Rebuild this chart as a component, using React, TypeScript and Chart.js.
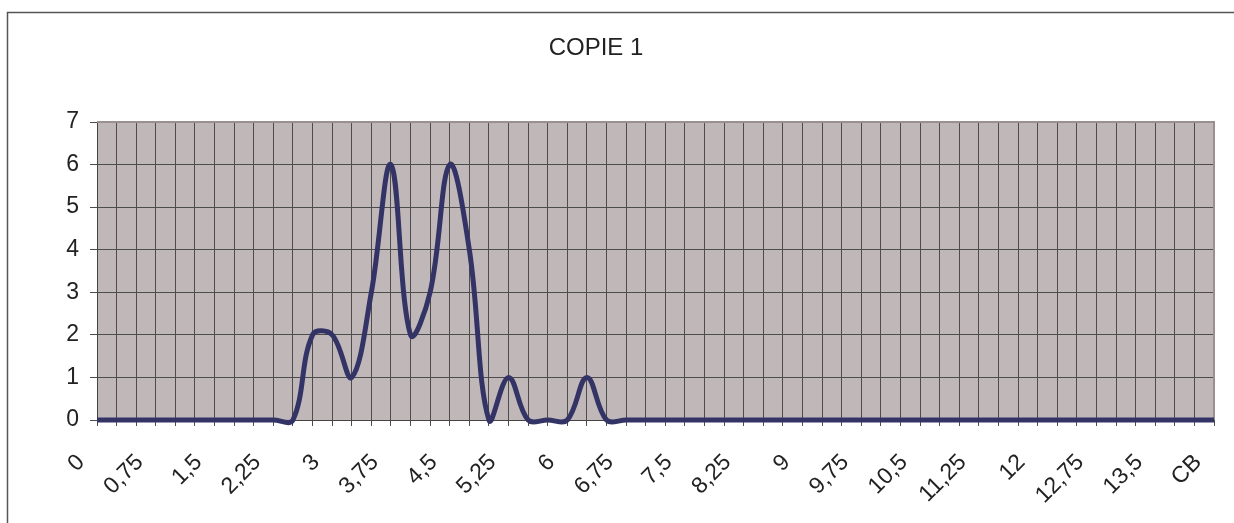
import React, { useEffect, useRef } from "react";
import { Chart, registerables } from "chart.js";

Chart.register(...registerables);

const TITLE = "COPIE 1";

const CATEGORIES: string[] = [
  "0", "0,25", "0,5", "0,75", "1", "1,25", "1,5", "1,75", "2", "2,25",
  "2,5", "2,75", "3", "3,25", "3,5", "3,75", "4", "4,25", "4,5", "4,75",
  "5", "5,25", "5,5", "5,75", "6", "6,25", "6,5", "6,75", "7", "7,25",
  "7,5", "7,75", "8", "8,25", "8,5", "8,75", "9", "9,25", "9,5", "9,75",
  "10", "10,25", "10,5", "10,75", "11", "11,25", "11,5", "11,75", "12", "12,25",
  "12,5", "12,75", "13", "13,25", "13,5", "13,75", "14", "CB",
];

const VALUES: number[] = [
  0, 0, 0, 0, 0, 0, 0, 0, 0, 0,
  0, 2, 2, 1, 3, 6, 2, 3, 6, 4,
  0, 1, 0, 0, 0, 1, 0, 0, 0, 0,
  0, 0, 0, 0, 0, 0, 0, 0, 0, 0,
  0, 0, 0, 0, 0, 0, 0, 0, 0, 0,
  0, 0, 0, 0, 0, 0, 0, 0,
];

const TICK_LABELS: string[] = [
  "0", "0,75", "1,5", "2,25", "3", "3,75", "4,5", "5,25", "6", "6,75",
  "7,5", "8,25", "9", "9,75", "10,5", "11,25", "12", "12,75", "13,5", "CB",
];

const Y_MIN = 0;
const Y_MAX = 7;

const FONT = "'Liberation Sans', Arial, sans-serif";

const framePlugin = {
  id: "frame",
  beforeDraw(chart: any) {
    const { ctx, chartArea } = chart;
    ctx.save();
    ctx.fillStyle = "#ffffff";
    ctx.fillRect(0, 0, chart.width, chart.height);
    ctx.strokeStyle = "#555555";
    ctx.lineWidth = 1.5;
    ctx.beginPath();
    ctx.moveTo(7.5, chart.height);
    ctx.lineTo(7.5, 12.5);
    ctx.lineTo(chart.width, 12.5);
    ctx.stroke();
    ctx.fillStyle = "#c0b8b8";
    ctx.fillRect(chartArea.left, chartArea.top, chartArea.right - chartArea.left, chartArea.bottom - chartArea.top);
    ctx.fillStyle = "#222222";
    ctx.font = `24px ${FONT}`;
    ctx.textAlign = "center";
    ctx.textBaseline = "middle";
    ctx.fillText(TITLE, 596, 48);
    ctx.restore();
  },
  beforeDatasetsDraw(chart: any) {
    const { ctx, chartArea } = chart;
    ctx.save();
    ctx.strokeStyle = "#9a9090";
    ctx.lineWidth = 2;
    ctx.beginPath();
    ctx.moveTo(chartArea.left, chartArea.top);
    ctx.lineTo(chartArea.right, chartArea.top);
    ctx.lineTo(chartArea.right, chartArea.bottom);
    ctx.stroke();
    ctx.restore();
  },
};

export default function App() {
  const canvasRef = useRef<HTMLCanvasElement | null>(null);

  useEffect(() => {
    document.body.style.margin = "0";
    document.body.style.overflow = "hidden";
    const canvas = canvasRef.current;
    if (!canvas) return;
    const chart = new Chart(canvas, {
      type: "line",
      data: {
        labels: CATEGORIES,
        datasets: [
          {
            data: VALUES,
            borderColor: "#333366",
            borderWidth: 5,
            pointRadius: 0,
            tension: 0.38,
            fill: false,
            clip: false as any,
          },
        ],
      },
      plugins: [framePlugin],
      options: {
        responsive: false,
        animation: false,
        devicePixelRatio: 1,
        layout: { padding: { left: 0, right: 20, top: 122, bottom: 0 } },
        elements: { line: { capBezierPoints: false, borderCapStyle: "butt", borderJoinStyle: "round" } },
        plugins: {
          legend: { display: false },
          tooltip: { enabled: false },
          title: { display: false },
        },
        scales: {
          x: {
            type: "category",
            offset: false,
            afterFit: (scale: any) => {
              scale.height = 103;
              scale.paddingLeft = 0;
              scale.paddingRight = 0;
            },
            grid: {
              display: true,
              color: "#4c4c4c",
              lineWidth: 1,
              tickLength: 6,
              drawOnChartArea: true,
              drawTicks: true,
            },
            border: { display: true, color: "#444444", width: 1 },
            ticks: {
              autoSkip: false,
              maxRotation: 45,
              minRotation: 45,
              padding: 23,
              labelOffset: -16,
              color: "#222222",
              font: { family: FONT, size: 23 },
              callback: function (this: any, _v: any, index: number) {
                const lab = CATEGORIES[index];
                return TICK_LABELS.includes(lab) && index % 3 === 0 ? lab : "";
              },
            },
          },
          y: {
            min: Y_MIN,
            max: Y_MAX,
            afterFit: (scale: any) => {
              scale.width = 97;
              scale.paddingTop = 0;
              scale.paddingBottom = 0;
            },
            grid: {
              display: true,
              color: "#4c4c4c",
              lineWidth: 1,
              tickLength: 7,
            },
            border: { display: true, color: "#444444", width: 1 },
            ticks: {
              stepSize: 1,
              padding: 11,
              color: "#222222",
              font: { family: FONT, size: 23 },
            },
          },
        },
      },
    });
    return () => chart.destroy();
  }, []);

  return (
    <div style={{ position: "fixed", left: 0, top: 0, width: 1234, height: 523 }}>
      <canvas ref={canvasRef} width={1234} height={523} />
    </div>
  );
}
